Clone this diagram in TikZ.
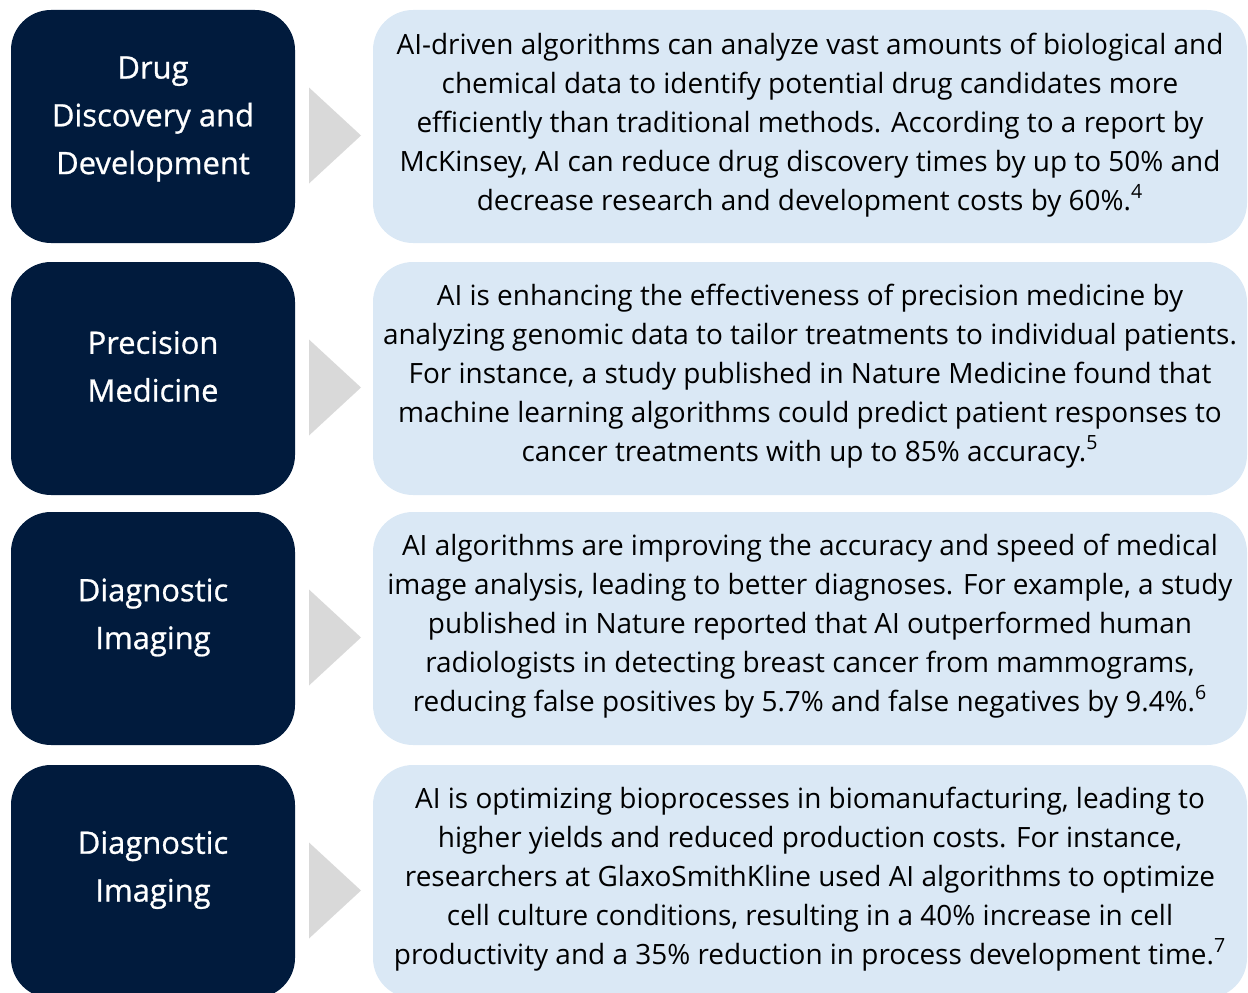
\documentclass[tikz,border=0pt]{standalone}
\usepackage{fontspec}
\setmainfont{Open Sans}
\newfontfamily\headfont{Open Sans}[FakeBold=0.8]
\usetikzlibrary{positioning}

\definecolor{navy}{HTML}{011B3D}
\definecolor{paleblue}{HTML}{DAE8F5}
\definecolor{chevron}{HTML}{D9D9D9}

\begin{document}
\begin{tikzpicture}[
    hd/.style={rectangle, rounded corners=0.8cm, fill=navy, text=white,
               minimum width=5.68cm, minimum height=4.66cm, inner sep=0pt},
    hdtxt/.style={text=white, align=center, font=\headfont\fontsize{17.6}{27.2}\selectfont},
    txt/.style={rectangle, rounded corners=0.8cm, fill=paleblue,
                minimum width=17.48cm, minimum height=4.66cm, inner sep=0pt},
    body/.style={align=center, text=black, font=\fontsize{15.9}{22.1}\selectfont},
    arr/.style={fill=chevron},
  ]
  \clip (0,0) rectangle (24.96,-19.86);
  \useasboundingbox (0,0) rectangle (24.96,-19.86);

  % row 1
  \node[hd] (hd1) at (3.06,-2.53) {};
  \node[hdtxt] (hdt1) at (3.06,-2.38) {Drug\\Discovery and\\Development};
  \node[txt] (txt1) at (16.2,-2.53) {};
  \node[body] (bt1) at (16.2,-2.50) {AI-driven algorithms can analyze vast amounts of biological and\\
    chemical data to identify potential drug candidates more\\
    efficiently than traditional methods. According to a report by\\
    McKinsey, AI can reduce drug discovery times by up to 50\% and\\
    decrease research and development costs by 60\%.\textsuperscript{4}};

  % row 2
  \node[hd] (hd2) at (3.06,-7.57) {};
  \node[hdtxt] (hdt2) at (3.06,-7.33) {Precision\\Medicine};
  \node[txt] (txt2) at (16.2,-7.57) {};
  \node[body] (bt2) at (16.2,-7.52) {AI is enhancing the effectiveness of precision medicine by\\
    analyzing genomic data to tailor treatments to individual patients.\\
    For instance, a study published in Nature Medicine found that\\
    machine learning algorithms could predict patient responses to\\
    cancer treatments with up to 85\% accuracy.\textsuperscript{5}};

  % row 3
  \node[hd] (hd3) at (3.06,-12.57) {};
  \node[hdtxt] (hdt3) at (3.06,-12.35) {Diagnostic\\Imaging};
  \node[txt] (txt3) at (16.2,-12.57) {};
  \node[body] (bt3) at (16.2,-12.52) {AI algorithms are improving the accuracy and speed of medical\\
    image analysis, leading to better diagnoses. For example, a study\\
    published in Nature reported that AI outperformed human\\
    radiologists in detecting breast cancer from mammograms,\\
    reducing false positives by 5.7\% and false negatives by 9.4\%.\textsuperscript{6}};

  % row 4
  \node[hd] (hd4) at (3.06,-17.63) {};
  \node[hdtxt] (hdt4) at (3.06,-17.40) {Diagnostic\\Imaging};
  \node[txt] (txt4) at (16.2,-17.63) {};
  \node[body] (bt4) at (16.2,-17.58) {AI is optimizing bioprocesses in biomanufacturing, leading to\\
    higher yields and reduced production costs. For instance,\\
    researchers at GlaxoSmithKline used AI algorithms to optimize\\
    cell culture conditions, resulting in a 40\% increase in cell\\
    productivity and a 35\% reduction in process development time.\textsuperscript{7}};

  % chevrons between the boxes
  \foreach \y in {-2.53,-7.57,-12.57,-17.63}
    \fill[arr] (6.18,\y+0.78) -- (7.22,\y-0.18) -- (6.18,\y-1.14) -- cycle;
\end{tikzpicture}
\end{document}
